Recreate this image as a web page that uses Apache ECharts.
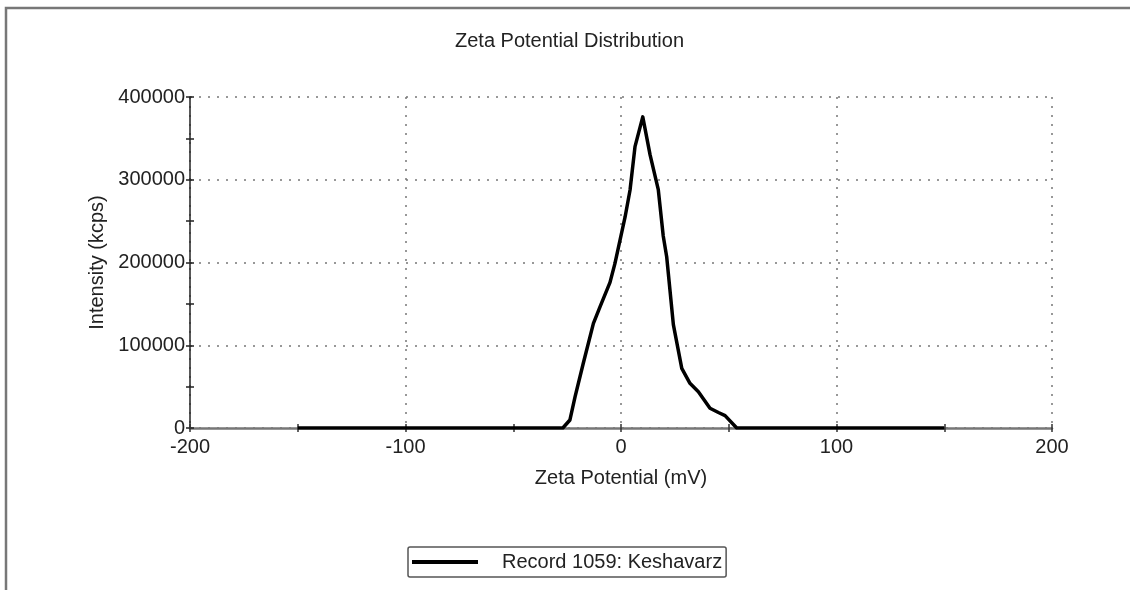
<!DOCTYPE html>
<html>
<head>
<meta charset="utf-8">
<script src="https://cdn.jsdelivr.net/npm/echarts@6/dist/echarts.min.js"></script>
<style>
  html, body { margin: 0; padding: 0; background: #fff; }
  #chart { width: 1130px; height: 590px; }
</style>
</head>
<body>
<div id="chart"></div>
<script>
// Zeta potential distribution (mV vs. kcps)
const zetaMv = [-150, -27, -23.7, -21.3, -17.5, -12.8, -9.7, -5.1, -2.8, 1.9, 4.2, 6.5, 10.1, 13.5, 17.3, 19.6, 21.2, 24.3, 28.2, 32, 35.9, 41.3, 45.2, 48.3, 53.7, 150];
const intensityKcps = [0, 0, 9700, 37800, 78200, 126500, 146600, 176000, 199000, 255000, 287600, 340000, 376000, 330000, 288000, 232000, 207000, 125000, 72100, 54000, 43900, 23800, 18700, 15000, 0, 0];

const titleText = 'Zeta Potential Distribution';
const xAxisTitle = 'Zeta Potential (mV)';
const yAxisTitle = 'Intensity (kcps)';
const seriesName = 'Record 1059: Keshavarz';

const FONT = "'Liberation Sans', Arial, sans-serif";
const TEXT = '#222';

const points = zetaMv.map((x, i) => [x, intensityKcps[i]]);

const dotted = { color: '#777', width: 1.5, type: [2, 7] };

const chart = echarts.init(document.getElementById('chart'), null, { renderer: 'canvas' });
chart.setOption({
  backgroundColor: '#fff',
  animation: false,
  textStyle: { fontFamily: FONT },
  title: {
    text: titleText,
    left: 455,
    top: 31,
    padding: 0,
    textStyle: { fontFamily: FONT, fontSize: 20, fontWeight: 'normal', color: TEXT }
  },
  graphic: [{
    type: 'rect',
    shape: { x: 6, y: 8, width: 1140, height: 600 },
    style: { fill: 'none', stroke: '#777', lineWidth: 2.5 },
    silent: true
  }],
  legend: {
    data: [{ name: seriesName, icon: 'rect' }],
    left: 408,
    top: 547,
    padding: [5, 4, 5, 4],
    itemWidth: 66,
    itemHeight: 4,
    borderColor: '#555',
    borderWidth: 1.5,
    borderRadius: 2,
    textStyle: { fontFamily: FONT, fontSize: 20, color: TEXT, padding: [0, 0, 0, 19] }
  },
  grid: { left: 190, right: 78, top: 97, bottom: 162, containLabel: false },
  xAxis: [{
    type: 'value',
    min: -200, max: 200, interval: 100,
    name: xAxisTitle,
    nameLocation: 'middle',
    nameGap: 40,
    nameTextStyle: { fontFamily: FONT, fontSize: 20, color: TEXT },
    axisLine: { show: true, onZero: false, lineStyle: { color: '#777', width: 2.5 } },
    axisTick: { show: true, inside: false, length: 4, lineStyle: { color: '#333', width: 1.5 } },
    minorTick: { show: true, splitNumber: 2, length: 4, lineStyle: { color: '#333', width: 1.5 } },
    axisLabel: { margin: 9, fontFamily: FONT, fontSize: 20, color: TEXT },
    splitLine: { show: true, lineStyle: dotted }
  }, {
    type: 'value',
    min: -200, max: 200, interval: 100,
    position: 'bottom',
    axisLine: { show: false, onZero: false },
    axisTick: { show: true, inside: true, length: 4, lineStyle: { color: '#333', width: 1.5 } },
    minorTick: { show: true, splitNumber: 2, length: 4, lineStyle: { color: '#333', width: 1.5 } },
    axisLabel: { show: false },
    splitLine: { show: false }
  }],
  yAxis: [{
    type: 'value',
    min: 0, max: 400000, interval: 100000,
    name: yAxisTitle,
    nameLocation: 'middle',
    nameRotate: 90,
    nameGap: 78,
    nameTextStyle: { fontFamily: FONT, fontSize: 20, color: TEXT },
    axisLine: { show: true, onZero: false, lineStyle: { color: '#222', width: 1.5 } },
    axisTick: { show: true, inside: false, length: 4, lineStyle: { color: '#222', width: 1.5 } },
    minorTick: { show: true, splitNumber: 2, length: 4, lineStyle: { color: '#222', width: 1.5 } },
    axisLabel: { margin: 5, fontFamily: FONT, fontSize: 20, color: TEXT, formatter: (v) => String(v) },
    splitLine: { show: true, lineStyle: dotted }
  }, {
    type: 'value',
    min: 0, max: 400000, interval: 100000,
    position: 'left',
    axisLine: { show: false, onZero: false },
    axisTick: { show: true, inside: true, length: 4, lineStyle: { color: '#222', width: 1.5 } },
    minorTick: { show: true, splitNumber: 2, length: 4, lineStyle: { color: '#222', width: 1.5 } },
    axisLabel: { show: false },
    splitLine: { show: false }
  }],
  series: [{
    name: seriesName,
    type: 'line',
    xAxisIndex: 0,
    yAxisIndex: 0,
    data: points,
    showSymbol: false,
    symbol: 'none',
    smooth: false,
    lineStyle: { color: '#000', width: 3.5, join: 'round' },
    itemStyle: { color: '#000' },
    z: 5
  }]
});
</script>
</body>
</html>
